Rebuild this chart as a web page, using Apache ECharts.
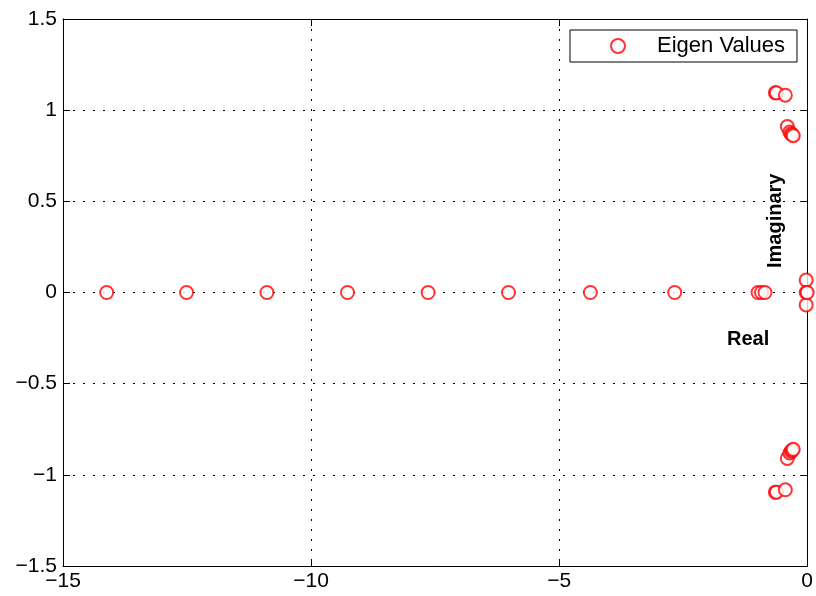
<!DOCTYPE html>
<html><head><meta charset="utf-8">
<script src="https://cdn.jsdelivr.net/npm/echarts@6/dist/echarts.min.js"></script>
<style>html,body{margin:0;padding:0;background:#fff}#c{width:816px;height:596px}</style>
</head><body><div id="c"></div>
<script>
var seriesName = 'Eigen Values';
var realParts = [-14.12, -12.51, -10.89, -9.265, -7.64, -6.02, -4.37, -2.67, -0.99, -0.92, -0.85,
  -0.02, -0.02, -0.02, 0.0,
  -0.64, -0.62, -0.44, -0.40, -0.35, -0.32, -0.30, -0.28,
  -0.64, -0.62, -0.44, -0.40, -0.35, -0.32, -0.30, -0.28];
var imagParts = [0, 0, 0, 0, 0, 0, 0, 0, 0, 0, 0,
  0.068, 0, -0.068, 0,
  1.095, 1.095, 1.082, 0.91, 0.88, 0.87, 0.865, 0.86,
  -1.095, -1.095, -1.082, -0.91, -0.88, -0.87, -0.865, -0.86];
var xTicks = [-15, -10, -5, 0];
var yTicks = [-1.5, -1, -0.5, 0, 0.5, 1, 1.5];
var axisTitleX = 'Real';
var axisTitleY = 'Imaginary';

var pts = realParts.map(function(r, i){ return [r, imagParts[i]]; });
function fmt(v){ var s = String(v); return s.charAt(0) === '-' ? '\u2212' + s.slice(1) : s; }
var font = 'Liberation Sans, Arial, sans-serif';
var lblStyle = {color:'#000', fontSize:21, fontFamily:font};
function mainAxis(min, max, interval, extra){
  var a = {type:'value', min:min, max:max, interval:interval,
    axisLine:{show:true, onZero:false, lineStyle:{color:'#000', width:1}},
    axisTick:{show:true, inside:true, length:7, lineStyle:{color:'#000'}},
    splitLine:{show:true, lineStyle:{color:'#000', type:[2,8], width:1}}};
  return Object.assign(a, extra);
}
function mirrorAxis(min, max, interval, pos){
  return {type:'value', min:min, max:max, interval:interval, position:pos,
    axisLine:{show:true, onZero:false, lineStyle:{color:'#000', width:1}},
    axisTick:{show:true, inside:true, length:7, lineStyle:{color:'#000'}},
    axisLabel:{show:false}, splitLine:{show:false}};
}
var chart = echarts.init(document.getElementById('c'), null, {renderer:'canvas'});
chart.setOption({
  animation:false,
  backgroundColor:'#fff',
  grid:{left:63, right:6, top:19, bottom:30, containLabel:false},
  xAxis:[mainAxis(xTicks[0], xTicks[xTicks.length-1], 5, {position:'bottom', axisLabel:Object.assign({formatter:fmt, margin:5}, lblStyle)}),
         mirrorAxis(xTicks[0], xTicks[xTicks.length-1], 5, 'top')],
  yAxis:[mainAxis(yTicks[0], yTicks[yTicks.length-1], 0.5, {position:'left', axisLabel:Object.assign({formatter:fmt, margin:6}, lblStyle)}),
         mirrorAxis(yTicks[0], yTicks[yTicks.length-1], 0.5, 'right')],
  legend:{show:true, left:570, top:30, orient:'vertical',
    data:[{name:seriesName, icon:'emptyCircle'}],
    itemWidth:14, itemHeight:14, padding:[5,12,5,40],
    backgroundColor:'#fff', borderColor:'#000', borderWidth:1, borderRadius:0,
    textStyle:{color:'#000', fontSize:22, fontFamily:font, padding:[0,0,0,27]}},
  graphic:[
    {type:'text', left:727, top:329, style:{text:axisTitleX, fontSize:20, fontWeight:'bold', fontFamily:font, fill:'#000'}},
    {type:'text', x:765, y:268, rotation:Math.PI/2, style:{text:axisTitleY, fontSize:20, fontWeight:'bold', fontFamily:font, fill:'#000'}}
  ],
  series:[{name:seriesName, type:'scatter', data:pts, symbol:'emptyCircle', symbolSize:13,
    itemStyle:{color:'#ff0000', borderColor:'#ff0000', borderWidth:1}, xAxisIndex:0, yAxisIndex:0}]
});
</script></body></html>
